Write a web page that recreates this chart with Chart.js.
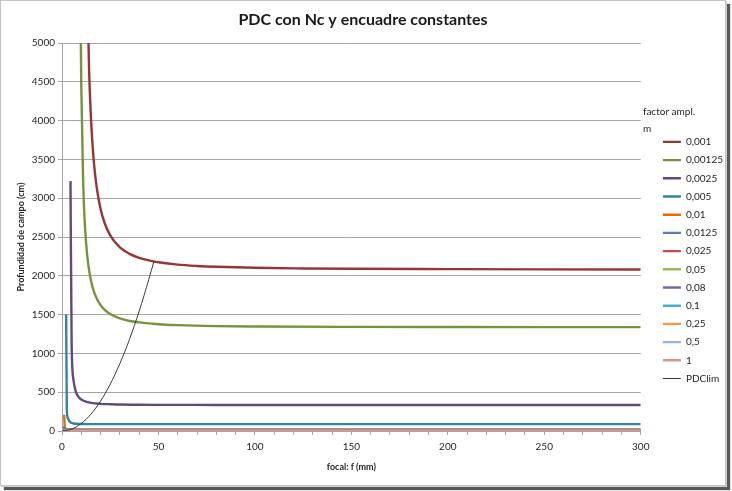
<!DOCTYPE html>
<html>
<head>
<meta charset="utf-8">
<script src="https://cdn.jsdelivr.net/npm/chart.js@4.4.1/dist/chart.umd.min.js"></script>
<style>
  html, body { margin: 0; padding: 0; background: #fff; }
  #frame {
    position: absolute; left: 0; top: 0;
    width: 724px; height: 484px;
    border: 1px solid #c4c4c4;
    box-shadow: 1px 1px 0 #d0d0d0, 4px 4px 1px #585858;
    background: #fff;
  }
  #grafico { display: block; }
</style>
</head>
<body>
<div id="frame"><canvas id="grafico" width="724" height="484"></canvas></div>
<script>
// factor de ampliacion m (etiquetas de la leyenda)
const factores = ['0,001', '0,00125', '0,0025', '0,005', '0,01', '0,0125', '0,025',
                  '0,05', '0,08', '0,1', '0,25', '0,5', '1', 'PDClim'];

// PDC (cm) frente a focal (mm): pares [f, pdc]
const pdc_0001 = [[13, 5870], [14, 4695], [15, 4040], [16, 3627], [17, 3343], [18, 3136],
  [20, 2861], [22, 2687], [25, 2521], [30, 2366], [35, 2283], [40, 2232], [45, 2198],
  [50, 2175], [60, 2144], [70, 2127], [80, 2116], [100, 2103], [125, 2095], [150, 2090],
  [200, 2086], [250, 2083], [300, 2082]];
const pdc_000125 = [[9.2, 7650], [9.7, 5180], [10, 4440], [11, 3170], [12, 2600], [13, 2280],
  [14, 2080], [15, 1942], [16, 1840], [18, 1707], [20, 1622], [22, 1563], [25, 1507],
  [30, 1451], [35, 1418], [40, 1400], [50, 1376], [60, 1364], [80, 1352], [100, 1347],
  [150, 1342], [200, 1340], [250, 1339], [300, 1338]];
const pdc_00025 = [[4.4, 3220], [5, 1110], [6, 650], [7, 520], [8, 460], [9, 427], [10, 406],
  [12, 381], [15, 363], [20, 350], [25, 345], [30, 341], [40, 338], [50, 337], [80, 336],
  [100, 335], [200, 335], [300, 335]];
const pdc_0005 = [[2.15, 1500], [2.5, 280], [3, 165], [4, 118], [5, 104], [6, 97], [8, 92],
  [10, 90], [15, 89], [20, 88], [50, 88], [100, 88], [300, 88]];
const pdc_001 = [[1.1, 210], [1.5, 42], [2, 30], [3, 24], [5, 22], [10, 21], [50, 21], [300, 21]];
const pdc_00125 = [[0.9, 60], [1.1, 32], [1.5, 19.5], [2, 16], [3, 14.5], [5, 13.8], [10, 13.4], [300, 13.3]];
const pdc_0025 = [[0.5, 12], [0.7, 5.3], [1, 4.1], [2, 3.5], [5, 3.35], [300, 3.3]];
const pdc_005 = [[0.3, 2.5], [0.5, 1.1], [1, 0.9], [5, 0.84], [300, 0.83]];
const pdc_008 = [[0.2, 0.8], [0.5, 0.36], [1, 0.34], [300, 0.33]];
const pdc_01 = [[0.2, 0.3], [1, 0.21], [300, 0.21]];
const pdc_025 = [[0.1, 0.05], [1, 0.034], [300, 0.033]];
const pdc_05 = [[0.1, 0.01], [300, 0.008]];
const pdc_1 = [[0.1, 0.003], [300, 0.002]];
const pdc_lim = [[0, 0], [5, 24], [10, 97], [15, 217], [20, 386], [25, 603], [30, 869],
  [35, 1182], [40, 1544], [45, 1954], [47.7, 2190]];

const series = [pdc_0001, pdc_000125, pdc_00025, pdc_0005, pdc_001, pdc_00125, pdc_0025,
                pdc_005, pdc_008, pdc_01, pdc_025, pdc_05, pdc_1, pdc_lim];
const colores = ['#953735', '#77933C', '#604A7B', '#31859C', '#E46C0A', '#4F81BD', '#C0504D',
                 '#9BBB59', '#8064A2', '#4BACC6', '#F79646', '#95B3D7', '#D99694', '#3a3a3a'];

const yTicks = { min: 0, max: 5000, step: 500 };
const xTicks = { min: 0, max: 300, step: 10, label: 50 };

Chart.defaults.font.family = 'Lato, "Open Sans", sans-serif';
Chart.defaults.color = '#262626';

const datasets = series.map((s, i) => ({
  label: factores[i],
  data: s.map(p => ({ x: p[0], y: p[1] })),
  borderColor: colores[i],
  backgroundColor: colores[i],
  borderWidth: i === series.length - 1 ? 1 : 2.4,
  pointRadius: 0,
  cubicInterpolationMode: 'monotone',
  fill: false,
  order: series.length - i // las ultimas series encima, como en Excel
}));

// titulo de la leyenda en dos lineas
const tituloLeyenda = {
  id: 'tituloLeyenda',
  afterDraw(chart) {
    const lg = chart.legend;
    const first = lg.legendHitBoxes[0];
    const ctx = chart.ctx;
    ctx.save();
    ctx.font = '10px Lato, "Open Sans", sans-serif';
    ctx.fillStyle = '#262626';
    ctx.textBaseline = 'middle';
    ctx.fillText('factor ampl.', first.left - 20, first.top - 25);
    ctx.fillText('m', first.left - 20, first.top - 8);
    ctx.restore();
  }
};

const config = {
  type: 'line',
  data: { datasets },
  options: {
    responsive: false,
    animation: false,
    layout: { padding: { left: -8, right: -8, top: 0, bottom: 8 } },
    plugins: {
      title: {
        display: true,
        text: 'PDC con Nc y encuadre constantes',
        color: '#1a1a1a',
        font: { size: 16, weight: 'bold' },
        padding: { top: 9, bottom: 13.8 }
      },
      legend: {
        position: 'right',
        align: 'center',
        title: { display: true, text: '', padding: { top: 0, bottom: 28 } },
        labels: {
          usePointStyle: true,
          pointStyle: 'line',
          pointStyleWidth: 18,
          padding: 8.2,
          font: { size: 10 },
          color: '#262626',
          sort: (a, b) => a.datasetIndex - b.datasetIndex
        }
      },
      tooltip: { enabled: false }
    },
    scales: {
      x: {
        type: 'linear',
        min: xTicks.min,
        max: xTicks.max,
        afterFit: s => { s.height = 46; },
        border: { color: '#a6a6a6', width: 1 },
        grid: { drawOnChartArea: false, drawTicks: true, tickLength: 4, color: '#a6a6a6' },
        ticks: {
          stepSize: xTicks.step,
          padding: 6,
          autoSkip: false,
          maxRotation: 0,
          font: { size: 10 },
          callback: v => (v % xTicks.label === 0 ? String(v) : '')
        },
        title: {
          display: true,
          text: 'focal: f (mm)',
          font: { size: 9, weight: 'bold' },
          padding: { top: 4, bottom: 5 }
        }
      },
      y: {
        type: 'linear',
        min: yTicks.min,
        max: yTicks.max,
        afterFit: s => { s.width = 69; },
        border: { color: '#a6a6a6', width: 1 },
        grid: { color: '#a6a6a6', lineWidth: 1, tickLength: 4 },
        ticks: {
          stepSize: yTicks.step,
          padding: 3,
          font: { size: 10 },
          callback: v => String(v)
        },
        title: {
          display: true,
          text: 'Profundidad de campo (cm)',
          font: { size: 9, weight: 'bold' },
          padding: { top: 23, bottom: 0 }
        }
      },
      hueco: {
        type: 'linear',
        position: 'right',
        display: true,
        afterFit: s => { s.width = 14; },
        border: { display: false },
        grid: { display: false, drawTicks: false },
        ticks: { display: false }
      }
    }
  },
  plugins: [tituloLeyenda]
};

new Chart(document.getElementById('grafico').getContext('2d'), config);
</script>
</body>
</html>
